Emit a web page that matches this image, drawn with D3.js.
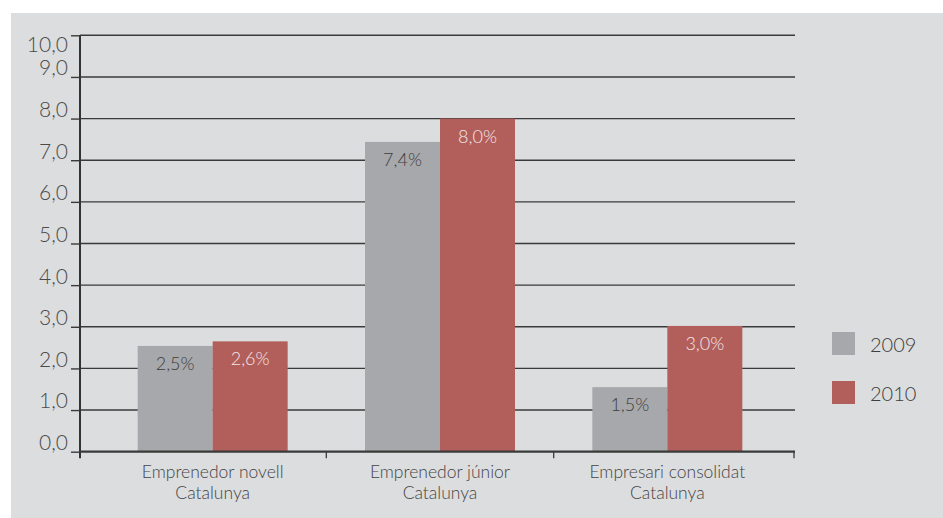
<!DOCTYPE html>
<html><head><meta charset="utf-8">
<script src="https://cdn.jsdelivr.net/npm/d3@7/dist/d3.min.js"></script>
<style>
html,body{margin:0;padding:0;background:#fff;}
svg{display:block;font-family:Lato,"Open Sans",sans-serif;}
</style></head>
<body>
<svg id="chart" width="943" height="518"></svg>
<script>
const categories = [["Emprenedor novell","Catalunya"],["Emprenedor júnior","Catalunya"],["Empresari consolidat","Catalunya"]];
const seriesNames = ["2009","2010"];
const values2009 = [2.54, 7.44, 1.55];
const values2010 = [2.65, 8.0, 3.02];
const labels2009 = ["2,5%","7,4%","1,5%"];
const labels2010 = ["2,6%","8,0%","3,0%"];
const yTicks = [0,1,2,3,4,5,6,7,8,9,10];
const yTickLabels = ["0,0","1,0","2,0","3,0","4,0","5,0","6,0","7,0","8,0","9,0","10,0"];
const colors = ["#a7a8ab","#b25f5c"];

const svg = d3.select("#chart");
svg.append("rect").attr("x",11).attr("y",13).attr("width",932).attr("height",505).attr("fill","#dcdddf");

const plotL = 80, plotR = 795;
const y = d3.scaleLinear().domain([0,10]).range([451.7,35.3]);
const x = d3.scaleBand().domain(d3.range(categories.length)).range([99,781]);
const barW = 75;
const x1 = d3.scaleBand().domain(seriesNames).range([-barW, barW]);

// gridlines
svg.append("g").selectAll("line").data(yTicks.filter(d=>d>0)).join("line")
  .attr("x1",plotL).attr("x2",plotR)
  .attr("y1",d=>y(d)).attr("y2",d=>y(d))
  .attr("stroke","#3a3a3a").attr("stroke-width",1.4);

// bars
const series = [values2009, values2010];
const labelsets = [labels2009, labels2010];
const labelColors = ["#3d3d3d","#f3e6e6"];
series.forEach((vals,si)=>{
  const g = svg.append("g");
  g.selectAll("rect").data(vals).join("rect")
    .attr("x",(d,i)=>x(i)+x.bandwidth()/2 + x1(seriesNames[si]))
    .attr("y",d=>y(d))
    .attr("width",x1.bandwidth())
    .attr("height",d=>y(0)-y(d))
    .attr("fill",colors[si]);
  g.selectAll("text").data(vals).join("text")
    .attr("x",(d,i)=>x(i)+x.bandwidth()/2 + x1(seriesNames[si]) + x1.bandwidth()/2)
    .attr("y",d=>y(d)+24)
    .attr("text-anchor","middle")
    .attr("font-size",18).attr("font-weight",300)
    .attr("fill",labelColors[si])
    .text((d,i)=>labelsets[si][i]);
});

// y axis
const yAxis = d3.axisLeft(y).tickValues(yTicks).tickSize(9).tickPadding(3)
  .tickFormat((d,i)=>yTickLabels[i]);
const ya = svg.append("g").attr("transform",`translate(${plotL},0)`).call(yAxis);
ya.select(".domain").remove();
ya.selectAll(".tick line").attr("stroke","#3a3a3a").attr("stroke-width",1.4);
ya.selectAll(".tick text").attr("font-size",21).attr("font-weight",300).attr("fill","#4a4a4a")
  .attr("font-family","Lato,'Open Sans',sans-serif")
  .attr("dy","-0.1em");
ya.selectAll(".tick").filter(d=>d===10).select("text").attr("dy","0.75em");

// y axis line
svg.append("line").attr("x1",plotL).attr("x2",plotL).attr("y1",y(10)).attr("y2",y(0)+6.5)
  .attr("stroke","#333").attr("stroke-width",2);
// x axis line
svg.append("line").attr("x1",plotL).attr("x2",plotR).attr("y1",y(0)).attr("y2",y(0))
  .attr("stroke","#3a3a3a").attr("stroke-width",2.2);
// category boundary ticks
const bounds = [x(1), x(2), plotR-1];
svg.append("g").selectAll("line").data(bounds).join("line")
  .attr("x1",d=>d).attr("x2",d=>d).attr("y1",y(0)).attr("y2",y(0)+6.5)
  .attr("stroke","#3a3a3a").attr("stroke-width",1.3);

// category labels
const cl = svg.append("g").selectAll("text").data(categories).join("text")
  .attr("text-anchor","middle").attr("font-size",17.5).attr("font-weight",300).attr("fill","#444");
cl.each(function(d,i){
  const t = d3.select(this);
  d.forEach((line,j)=>{
    t.append("tspan").attr("x",x(i)+x.bandwidth()/2).attr("y",478+j*21).text(line);
  });
});

// legend
const lg = svg.append("g").selectAll("g").data(seriesNames).join("g")
  .attr("transform",(d,i)=>`translate(832,${332+i*49})`);
lg.append("rect").attr("width",23).attr("height",23).attr("fill",(d,i)=>colors[i]);
lg.append("text").attr("x",38).attr("y",20).attr("font-size",20).attr("font-weight",300)
  .attr("fill","#3d3d3d").text(d=>d);
</script>
</body></html>
